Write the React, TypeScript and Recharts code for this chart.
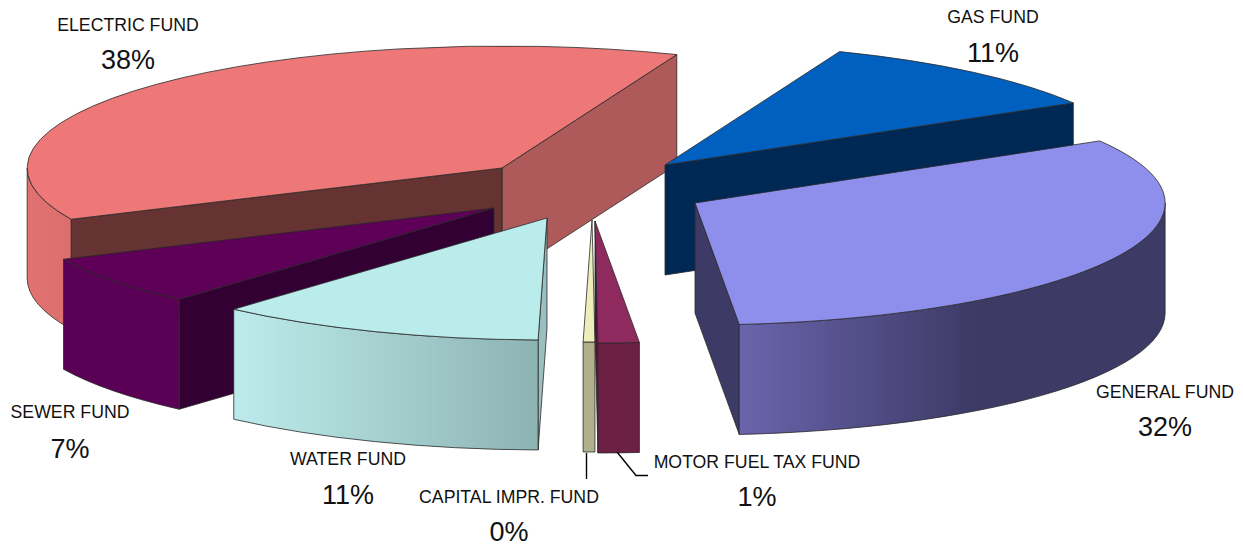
import React from "react";
import { PieChart, Pie } from "recharts";

const FUND_NAMES = [
  "ELECTRIC FUND",
  "SEWER FUND",
  "WATER FUND",
  "CAPITAL IMPR. FUND",
  "MOTOR FUEL TAX FUND",
  "GENERAL FUND",
  "GAS FUND",
];
const FUND_VALUES = [37.9, 6.55, 11.25, 0.4, 1.4, 32, 10.5];

const pieData = FUND_NAMES.map((name, i) => ({ name, value: FUND_VALUES[i] }));

// slice look, same order as FUND_NAMES
const TOP_COLORS = ["#EE7777", "#5F0058", "#BBECEC", "#EEEEBB", "#8F2A5F", "#8E8EEC", "#0060BF"];
const START_FACE = ["#AE5A5A", "#330033", "#9BBFBF", "#8E8E70", "#4A1535", "#3E3A66", "#002855"];
const END_FACE = ["#663333", "#330033", "#9BBFBF", "#8E8E70", "#4A1535", "#3E3A66", "#002855"];
const ARC_FROM = ["#E27272", "#5A0055", "#BDEBEB", "#B0B08C", "#6B2044", "#6A64AC", "#002855"];
const ARC_TO = ["#DC6E6E", "#5A0055", "#8DB3B3", "#B0B08C", "#6B2044", "#3D3A66", "#002855"];

// explosion of each slice from the pie centre (px)
const OFFSET_X = [-88, -96, -43, 2, 5, 105, 75];
const OFFSET_Y = [-22, 18, 28, 30, 31, 13, -25];
// the original has a touch of perspective, so widths differ a little
const WIDTH_SCALE = [1.006, 1.005, 1, 1, 1, 0.996, 1.005];

const LABEL_X = [128, 70, 348, 509, 757, 1165, 993];
const NAME_Y = [25, 412, 459, 497, 462, 392, 17];
const PCT_Y = [60, 449, 495, 532, 497, 427, 53];

const LEADERS: Record<string, string> = {
  "CAPITAL IMPR. FUND": "586.5,453 586.5,479",
  "MOTOR FUEL TAX FUND": "617,452 636,475.5 648,475.5",
};

const WIDTH = 1243;
const HEIGHT = 548;
const CX = 590;
const CY = 190;
const RX = 472;
const RY = 122;
const DEPTH = 110;

const rad = (deg: number) => (deg * Math.PI) / 180;

// squashes a pie slice into an extruded wedge
function Wedge(props: any) {
  const { cx, cy, startAngle, endAngle, outerRadius } = props;
  const i = FUND_NAMES.indexOf(props.name);
  const x0 = cx + OFFSET_X[i];
  const y0 = cy + OFFSET_Y[i];
  const rx = outerRadius * WIDTH_SCALE[i];
  const ry = (outerRadius * RY) / RX;
  const px = (a: number) => x0 + rx * Math.cos(rad(a));
  const py = (a: number) => y0 - ry * Math.sin(rad(a));
  const radial = (a: number) =>
    `M${x0},${y0} L${px(a)},${py(a)} L${px(a)},${py(a) + DEPTH} L${x0},${y0 + DEPTH} Z`;
  const large = endAngle - startAngle > 180 ? 1 : 0;
  const top = `M${x0},${y0} L${px(startAngle)},${py(startAngle)} A${rx},${ry} 0 ${large} 0 ${px(endAngle)},${py(endAngle)} Z`;

  const lo = Math.max(startAngle, 180);
  const hi = Math.min(endAngle, 360);
  const gradId = `arc-${i}`;
  const stroke = "#2a2a2a";

  return (
    <g>
      <defs>
        <linearGradient id={gradId} x1="0" y1="0" x2="1" y2="0">
          <stop offset="0" stopColor={ARC_FROM[i]} />
          <stop offset={i === 5 ? "0.55" : "1"} stopColor={ARC_TO[i]} />
        </linearGradient>
      </defs>
      {Math.cos(rad(startAngle)) > 0 && (
        <path d={radial(startAngle)} fill={START_FACE[i]} stroke={stroke} strokeWidth={0.8} />
      )}
      {Math.cos(rad(endAngle)) < 0 && (
        <path d={radial(endAngle)} fill={END_FACE[i]} stroke={stroke} strokeWidth={0.8} />
      )}
      {hi > lo && (
        <path
          d={`M${px(lo)},${py(lo)} A${rx},${ry} 0 0 0 ${px(hi)},${py(hi)} L${px(hi)},${py(hi) + DEPTH} A${rx},${ry} 0 0 1 ${px(lo)},${py(lo) + DEPTH} Z`}
          fill={`url(#${gradId})`}
          stroke={stroke}
          strokeWidth={0.8}
        />
      )}
      <path d={top} fill={TOP_COLORS[i]} stroke={stroke} strokeWidth={0.8} />
    </g>
  );
}

// general fund goes over the gas fund, so it gets its own pass
const backShape = (props: any) => (props.name === "GENERAL FUND" ? <g /> : <Wedge {...props} />);
const frontShape = (props: any) => (props.name === "GENERAL FUND" ? <Wedge {...props} /> : <g />);

function renderLabel(props: any) {
  const i = FUND_NAMES.indexOf(props.name);
  const leader = LEADERS[props.name];
  return (
    <g key={props.name}>
      {leader && <polyline points={leader} fill="none" stroke="#000" strokeWidth={1.4} />}
      <text x={LABEL_X[i]} y={NAME_Y[i]} textAnchor="middle" dominantBaseline="central" fontSize={17.7} fill="#111">
        {props.name}
      </text>
      <text x={LABEL_X[i]} y={PCT_Y[i]} textAnchor="middle" dominantBaseline="central" fontSize={27} fill="#111">
        {Math.round(props.value)}%
      </text>
    </g>
  );
}

export default function App() {
  const pieProps = {
    data: pieData,
    dataKey: "value",
    nameKey: "name",
    cx: CX,
    cy: CY,
    innerRadius: 0,
    outerRadius: RX,
    startAngle: 68.4,
    endAngle: 428.4,
    stroke: "none",
    isAnimationActive: false,
  };
  return (
    <div
      style={{
        position: "absolute",
        left: 0,
        top: 0,
        width: WIDTH,
        height: HEIGHT,
        background: "#fff",
        fontFamily: "'Liberation Sans', Arial, sans-serif",
      }}
    >
      <PieChart width={WIDTH} height={HEIGHT} margin={{ top: 0, right: 0, bottom: 0, left: 0 }}>
        <Pie {...pieProps} shape={backShape} />
        <Pie {...pieProps} shape={frontShape} label={renderLabel} labelLine={false} />
      </PieChart>
    </div>
  );
}
